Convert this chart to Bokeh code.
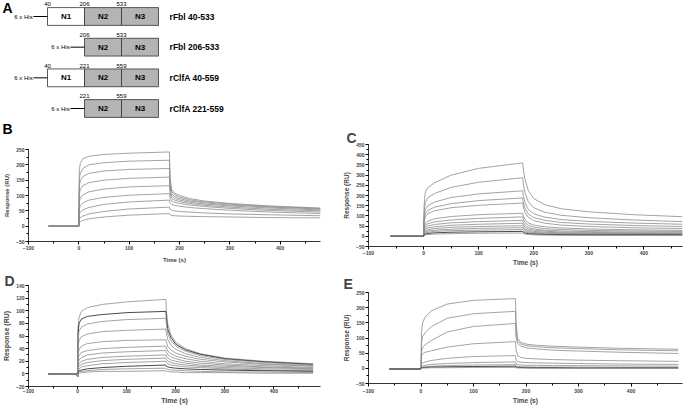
from bokeh.plotting import figure
from bokeh.models import Range1d, SingleIntervalTicker, ColumnDataSource
from bokeh.layouts import column, row
from bokeh.embed import file_html
from bokeh.resources import INLINE
from bokeh.core.properties import value

FONT = "Liberation Sans"

# ---------------- Panel A data ----------------
CONSTRUCTS = ["rFbl 40-533", "rFbl 206-533", "rClfA 40-559", "rClfA 221-559"]
CONSTRUCT_DOMAINS = [["N1", "N2", "N3"], ["N2", "N3"], ["N1", "N2", "N3"], ["N2", "N3"]]
CONSTRUCT_BOUNDS = [["40", "206", "533"], ["206", "533"], ["40", "221", "559"], ["221", "559"]]
TAG_LABEL = "6 x His"
DOMAIN_ORDER = ["N1", "N2", "N3"]
PANEL_LETTERS = ["A", "B", "C", "D", "E"]

# ---------------- Sensorgram data ----------------
T_BASE = [-60, -1, 0]
T_ASSOC = [1, 3, 8, 20, 50, 100, 180]

# Panel B
B_BASE = [0, 0, 0]
B_T_DISS = [181, 184, 190, 200, 220, 250, 300, 380, 480]
B_ASSOC = [
    [185, 205, 220, 228, 234, 238, 242],
    [155, 172, 188, 200, 207, 212, 215],
    [130, 148, 162, 172, 180, 185, 188],
    [105, 120, 132, 142, 150, 156, 160],
    [80, 92, 102, 112, 121, 128, 132],
    [58, 67, 76, 85, 94, 101, 106],
    [40, 46, 53, 61, 71, 79, 85],
    [24, 28, 33, 40, 48, 56, 62],
    [12, 15, 19, 24, 30, 36, 41],
]
B_DISS = [
    [160, 120, 108, 100, 90, 82, 74, 66, 59],
    [150, 113, 103, 95, 86, 79, 72, 64, 58],
    [138, 106, 97, 90, 82, 76, 69, 62, 56],
    [125, 99, 91, 85, 78, 72, 66, 59, 53],
    [110, 91, 85, 80, 74, 68, 62, 55, 50],
    [92, 82, 78, 74, 69, 64, 58, 51, 46],
    [76, 71, 68, 65, 61, 57, 52, 46, 41],
    [56, 52, 50, 48, 46, 43, 40, 37, 34],
    [38, 35, 34, 33, 32, 31, 30, 28, 27],
]

# Panel C
C_BASE = [0, 0, 0]
C_T_DISS = [181, 184, 190, 200, 220, 250, 300, 380, 470]
C_ASSOC = [
    [150, 215, 240, 262, 300, 333, 360],
    [120, 165, 190, 210, 240, 265, 287],
    [95, 130, 150, 168, 190, 208, 223],
    [80, 110, 128, 143, 160, 175, 188],
    [70, 95, 112, 125, 140, 152, 163],
    [45, 62, 75, 86, 97, 106, 113],
    [38, 52, 62, 71, 80, 88, 95],
    [30, 42, 51, 58, 66, 72, 78],
    [24, 33, 41, 47, 54, 59, 64],
    [19, 26, 33, 38, 44, 48, 52],
    [15, 21, 26, 30, 35, 39, 42],
    [11, 16, 20, 24, 28, 30, 33],
    [8, 11, 14, 17, 20, 22, 24],
    [5, 7, 9, 11, 13, 15, 16],
]
C_DISS = [
    [330, 280, 225, 185, 155, 135, 120, 106, 96],
    [260, 215, 170, 140, 118, 103, 91, 80, 72],
    [200, 165, 132, 110, 94, 82, 73, 65, 59],
    [168, 138, 110, 92, 78, 68, 60, 53, 48],
    [145, 118, 93, 77, 64, 55, 48, 42, 38],
    [100, 82, 66, 55, 47, 41, 36, 32, 29],
    [84, 68, 55, 45, 38, 33, 29, 26, 24],
    [68, 55, 44, 36, 30, 26, 23, 21, 20],
    [56, 45, 36, 30, 25, 21, 19, 17, 16],
    [45, 36, 29, 24, 20, 17, 15, 14, 13],
    [36, 29, 23, 19, 16, 14, 12, 11, 11],
    [28, 22, 18, 15, 13, 11, 10, 9, 9],
    [20, 16, 13, 11, 9, 8, 7, 7, 7],
    [13, 11, 9, 7, 6, 5, 5, 5, 5],
]

# Panel D
D_BASE = [0, 0, -4]
D_T_DISS = [181, 184, 190, 200, 220, 250, 300, 380, 480]
D_ASSOC = [
    [75, 90, 99, 105, 110, 114, 118],
    [65, 80, 87, 91, 94, 97, 99],
    [55, 68, 74, 79, 83, 86, 88],
    [42, 53, 59, 63, 67, 69, 71],
    [30, 39, 44, 48, 51, 53, 54],
    [22, 29, 34, 37, 40, 42, 44],
    [17, 22, 26, 30, 33, 35, 37],
    [12, 16, 20, 23, 26, 28, 30],
    [9, 12, 15, 18, 21, 23, 25],
    [6, 8, 11, 13, 16, 18, 20],
    [3, 5, 6, 8, 10, 12, 14],
    [2, 3, 4, 5, 7, 8, 9],
    [1, 1, 2, 3, 4, 4, 5],
]
D_DISS = [
    [100, 78, 62, 50, 40, 32, 25, 20, 16],
    [88, 70, 58, 47, 38, 31, 24, 19, 15],
    [78, 63, 53, 44, 36, 29, 23, 18, 14],
    [64, 54, 46, 39, 32, 26, 21, 16, 13],
    [50, 43, 38, 33, 28, 23, 19, 15, 12],
    [41, 36, 32, 28, 24, 20, 16, 13, 10],
    [34, 30, 27, 24, 20, 17, 14, 11, 9],
    [28, 25, 22, 20, 17, 14, 12, 10, 8],
    [23, 20, 18, 16, 14, 12, 10, 8, 7],
    [18, 16, 14, 13, 11, 10, 8, 6, 5],
    [12, 11, 10, 9, 8, 7, 6, 5, 4],
    [8, 7, 6, 6, 5, 4, 3, 3, 2],
    [4, 4, 3, 3, 2, 2, 2, 1, 1],
]

# Panel E
E_BASE = [-2, -2, -2]
E_T_DISS = [181, 184, 190, 200, 220, 250, 300, 380, 490]
E_ASSOC = [
    [120, 150, 170, 190, 212, 224, 230],
    [85, 105, 118, 138, 165, 180, 188],
    [55, 68, 78, 92, 120, 138, 148],
    [40, 48, 53, 58, 70, 81, 88],
    [14, 17, 21, 26, 33, 39, 42],
    [6, 8, 10, 13, 16, 19, 21],
    [3, 4, 5, 7, 9, 11, 12],
    [2, 2, 3, 4, 5, 6, 7],
    [1, 1, 1, 2, 2, 3, 3],
]
E_DISS = [
    [150, 100, 85, 80, 76, 73, 70, 66, 63],
    [120, 90, 80, 75, 71, 68, 65, 61, 58],
    [100, 82, 73, 68, 64, 60, 57, 53, 49],
    [60, 42, 36, 33, 31, 29, 27, 25, 23],
    [28, 22, 20, 19, 18, 17, 16, 14, 13],
    [14, 12, 11, 10, 10, 9, 9, 8, 7],
    [7, 6, 5, 5, 4, 4, 4, 3, 3],
    [4, 3, 3, 2, 2, 2, 1, 1, 1],
    [2, 1, 1, 1, 0, 0, 0, 0, 0],
]

X_LABEL = "Time (s)"
Y_LABEL = "Response (RU)"

# ---------------- styles / layout ----------------
GREY = "#8c8c8c"
DARK = "#1a1a1a"
BOX_GREY = "#b4b4b4"
TOP_W, TOP_H = 340, 137
SLOT_PX, ROW_PX = 37.0, 30.67
ORIGIN_X, ORIGIN_Y = 47.0, 16.0


def fx(px):
    return (px - ORIGIN_X) / SLOT_PX


def fy(py):
    return (py - ORIGIN_Y) / ROW_PX


def panel_a():
    p = figure(width=TOP_W, height=TOP_H, x_range=Range1d(fx(0), fx(TOP_W)),
               y_range=Range1d(fy(TOP_H), fy(0)), output_backend="svg",
               toolbar_location=None, x_axis_location=None, y_axis_location=None,
               min_border=0)
    p.grid.visible = False
    p.outline_line_color = None
    half = 0.29
    box = dict(left=[], right=[], top=[], bottom=[], fill=[])
    dom = dict(x=[], y=[], t=[])
    bnd = dict(x=[], y=[], t=[], a=[])
    tag = dict(x0=[], x1=[], y=[], tx=[], t=[])
    nm = dict(x=[], y=[], t=[])
    for r, (name, doms, bounds) in enumerate(zip(CONSTRUCTS, CONSTRUCT_DOMAINS, CONSTRUCT_BOUNDS)):
        slots = [DOMAIN_ORDER.index(d) for d in doms]
        for d, s in zip(doms, slots):
            box["left"].append(s); box["right"].append(s + 1)
            box["top"].append(r - half); box["bottom"].append(r + half)
            box["fill"].append("white" if d == "N1" else BOX_GREY)
            dom["x"].append(s + 0.5); dom["y"].append(r); dom["t"].append(d)
        edges = slots + [slots[-1] + 1]
        for i, (e, b) in enumerate(zip(edges, bounds)):
            last = i == len(edges) - 1
            bnd["x"].append(e + (0.03 if last else 0)); bnd["y"].append(r - half - 0.04)
            bnd["t"].append(b); bnd["a"].append("right" if last else "center")
        tag["x0"].append(slots[0] - 0.38); tag["x1"].append(slots[0]); tag["y"].append(r)
        tag["tx"].append(slots[0] - 0.4); tag["t"].append(TAG_LABEL)
        nm["x"].append(3.3); nm["y"].append(r); nm["t"].append(name)
    p.quad(left="left", right="right", top="top", bottom="bottom", fill_color="fill",
           line_color="#333333", line_width=0.8, source=ColumnDataSource(box))
    p.segment(x0="x0", x1="x1", y0="y", y1="y", line_color="black", line_width=1.0,
              source=ColumnDataSource(tag))
    p.text(x="tx", y="y", text="t", text_align="right", text_baseline="middle",
           text_font=value(FONT), text_font_size="6px", text_color="black",
           source=ColumnDataSource(tag))
    p.text(x="x", y="y", text="t", text_align="center", text_baseline="middle",
           text_font=value(FONT), text_font_size="8px", text_font_style="bold",
           source=ColumnDataSource(dom))
    p.text(x="x", y="y", text="t", text_align="a", text_baseline="bottom",
           text_font=value(FONT), text_font_size="6px", source=ColumnDataSource(bnd))
    p.text(x="x", y="y", text="t", text_align="left", text_baseline="middle",
           text_font=value(FONT), text_font_size="8.5px", text_font_style="bold",
           source=ColumnDataSource(nm))
    # panel letters A and B (B sits just above its plot)
    p.text(x=[fx(2), fx(2)], y=[fy(-1), fy(120)], text=PANEL_LETTERS[:2],
           text_align="left", text_baseline="top", text_font=value(FONT),
           text_font_size="14px", text_font_style="bold")
    return p


def sensor(letter, base, assoc, t_diss, diss, xmax, ymin, ymax, yint, dark,
           width, height, borders, title_offset=0, title_standoff=0,
           label_size="6.5px", tick_std=1, label_std=3, x_tick_out=3):
    bl, br, bt, bb = borders
    p = figure(width=width, height=height, x_range=Range1d(-100, xmax),
               y_range=Range1d(ymin, ymax), output_backend="svg", toolbar_location=None,
               min_border_left=bl, min_border_right=br, min_border_top=bt,
               min_border_bottom=bb)
    p.grid.visible = False
    p.outline_line_color = None
    p.background_fill_color = "white"
    p.border_fill_color = "white"
    xs = T_BASE + T_ASSOC + t_diss
    for i, (a, d) in enumerate(zip(assoc, diss)):
        col = DARK if i in dark else GREY
        p.line(xs, base + a + d, line_color=col, line_width=0.8)
    p.xaxis.ticker = SingleIntervalTicker(interval=100, num_minor_ticks=2)
    p.yaxis.ticker = SingleIntervalTicker(interval=yint, num_minor_ticks=2)
    for ax in (p.xaxis[0], p.yaxis[0]):
        ax.axis_line_color = "black"
        ax.axis_line_width = 0.8
        ax.major_tick_line_color = "black"
        ax.minor_tick_line_color = "black"
        ax.major_tick_in = 0
        ax.major_tick_out = 3
        ax.minor_tick_in = 0
        ax.minor_tick_out = 2
        ax.major_label_text_font = FONT
        ax.major_label_text_font_size = "5px"
        ax.major_label_text_font_style = "bold"
        ax.major_label_standoff = 1
        ax.axis_label_text_font = FONT
        ax.axis_label_text_font_size = label_size
        ax.axis_label_text_font_style = "bold"
        ax.axis_label_standoff = 3
    p.xaxis.major_tick_out = x_tick_out
    p.xaxis.minor_tick_out = min(2, x_tick_out)
    p.xaxis.major_label_standoff = tick_std
    p.xaxis.axis_label_standoff = label_std
    p.xaxis.axis_label = X_LABEL
    p.yaxis.axis_label = Y_LABEL
    if letter:
        p.title.text = letter
        p.title.text_font = FONT
        p.title.text_font_size = "14px"
        p.title.text_font_style = "bold"
        p.title.align = "left"
        p.title.offset = title_offset
        p.title.standoff = title_standoff
    return p


pa = panel_a()
pb = sensor("", B_BASE, B_ASSOC, B_T_DISS, B_DISS, 480, -50, 250, 50, [],
            340, 128, (25, 18, 12, 24), label_size="6px", tick_std=1, label_std=4)
pd = sensor(PANEL_LETTERS[3], D_BASE, D_ASSOC, D_T_DISS, D_DISS, 495, -20, 140, 20, [1, 10],
            340, 141, (28, 20, 20, 19), -24, -6, label_size="7px", tick_std=0,
            label_std=1, x_tick_out=2)
pc = sensor(PANEL_LETTERS[2], C_BASE, C_ASSOC, C_T_DISS, C_DISS, 470, -50, 450, 50, [12],
            344, 268, (27, 2, 144, 22), -22, -2, label_size="6.5px", tick_std=1, label_std=1)
pe = sensor(PANEL_LETTERS[4], E_BASE, E_ASSOC, E_T_DISS, E_DISS, 498, -50, 250, 50, [7],
            344, 138, (28, 2, 24, 20), -25, 2, label_size="6.5px", tick_std=2, label_std=1)

# panel A is wrapped in its own row so that it is not frame-aligned with B and D
layout = row(column(row(pa), pb, pd), column(pc, pe))
open("out.html", "w").write(file_html(layout, INLINE))
